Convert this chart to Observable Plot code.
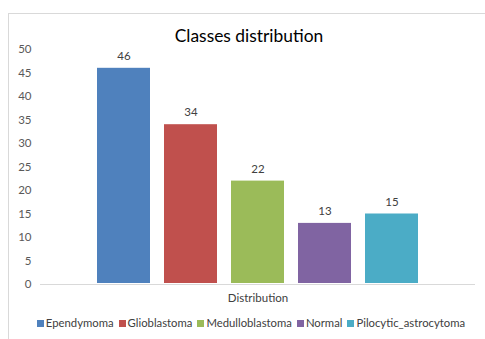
<!DOCTYPE html>
<html>
<head>
<meta charset="utf-8">
<script src="https://cdn.jsdelivr.net/npm/d3@7"></script>
<script src="https://cdn.jsdelivr.net/npm/@observablehq/plot@0.6"></script>
<style>
  html, body { margin: 0; padding: 0; background: #fff; }
  body { width: 485px; height: 339px; position: relative; overflow: hidden; font-family: Lato, "Open Sans", sans-serif; }
  #frame { position: absolute; left: 8px; top: 13px; width: 500px; height: 400px; border: 1px solid #d9d9d9; box-sizing: border-box; }
  #title { position: absolute; left: 0; width: 498px; top: 25px; text-align: center; font-size: 17.4px; color: #000; }
  #chart { position: absolute; left: 0; top: 0; }
  #legend { position: absolute; left: 0; width: 502px; top: 316px; display: flex; justify-content: center; gap: 5px; font-size: 11.3px; color: #404040; }
  #legend span.sw { display: inline-block; width: 7px; height: 7px; margin-right: 2px; vertical-align: 0px; }
</style>
</head>
<body>
<div id="frame"></div>
<div id="title">Classes distribution</div>
<div id="chart"></div>
<div id="legend"></div>
<script>
const classes = ["Ependymoma", "Glioblastoma", "Medulloblastoma", "Normal", "Pilocytic_astrocytoma"];
const counts = [46, 34, 22, 13, 15];
const colors = ["#4F81BD", "#C0504D", "#9BBB59", "#8064A2", "#4BACC6"];
const yTicks = [0, 5, 10, 15, 20, 25, 30, 35, 40, 45, 50];
const categoryLabel = "Distribution";

const data = classes.map((c, i) => ({cls: c, n: counts[i]}));

const chart = Plot.plot({
  width: 485,
  height: 310,
  marginTop: 49,
  marginBottom: 26,
  marginLeft: 40,
  marginRight: 10,
  style: {fontFamily: "Lato, 'Open Sans', sans-serif", fontSize: "12px", background: "transparent", overflow: "visible"},
  x: {domain: classes, paddingInner: 0.21, paddingOuter: 0.85, axis: null},
  y: {domain: [0, 50], ticks: yTicks, tickSize: 0, tickPadding: 9, label: null},
  color: {domain: classes, range: colors},
  marks: [
    Plot.axisY({ticks: yTicks, tickSize: 0, tickPadding: 9, color: "#595959", fontSize: 11.5, label: null}),
    Plot.ruleY([0], {stroke: "#d9d9d9", strokeWidth: 1}),
    Plot.barY(data, {x: "cls", y: "n", fill: "cls", insetBottom: 1}),
    Plot.text(data, {x: "cls", y: "n", text: d => String(d.n), dy: -12, fill: "#404040", fontSize: 11.5}),
    Plot.text([categoryLabel], {frameAnchor: "bottom", dy: 17, fill: "#404040", fontSize: 11.5})
  ]
});
document.getElementById("chart").appendChild(chart);

const legend = document.getElementById("legend");
classes.forEach((c, i) => {
  const item = document.createElement("span");
  const sw = document.createElement("span");
  sw.className = "sw";
  sw.style.background = colors[i];
  item.appendChild(sw);
  item.appendChild(document.createTextNode(c));
  legend.appendChild(item);
});
</script>
</body>
</html>
